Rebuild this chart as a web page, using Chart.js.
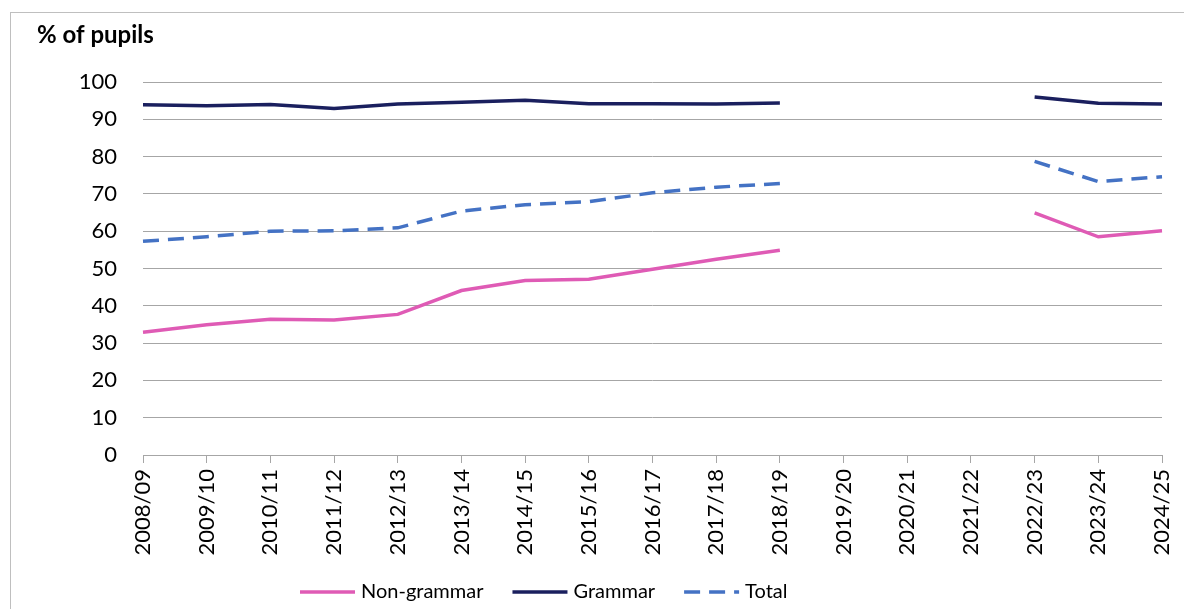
<!DOCTYPE html>
<html>
<head>
<meta charset="utf-8">
<script src="https://cdn.jsdelivr.net/npm/chart.js@4.4.1/dist/chart.umd.min.js"></script>
<style>
  body { margin: 0; background: #fff; }
  #frame { position: absolute; left: 10px; top: 12px; width: 1200px; height: 640px; border: 1px solid #bfbfbf; }
  #wrap { position: absolute; left: 0; top: 0; width: 1184px; height: 609px; }
</style>
</head>
<body>
<div id="frame"></div>
<div id="wrap"><canvas id="myChart" width="1184" height="609"></canvas></div>
<script>
const years = ['2008/09', '2009/10', '2010/11', '2011/12', '2012/13', '2013/14', '2014/15', '2015/16',
    '2016/17', '2017/18', '2018/19', '2019/20', '2020/21', '2021/22', '2022/23', '2023/24', '2024/25'];
// no data for the covid years
const nonGrammar = [32.9, 34.9, 36.4, 36.2, 37.7, 44.1, 46.8, 47.1, 49.8, 52.5, 54.9, null, null, null, 64.9, 58.5, 60.1];
const grammar = [93.9, 93.6, 94.0, 92.9, 94.1, 94.6, 95.1, 94.2, 94.2, 94.1, 94.4, null, null, null, 96.0, 94.3, 94.1];
const total = [57.3, 58.5, 60.0, 60.1, 60.9, 65.4, 67.1, 67.9, 70.3, 71.8, 72.8, null, null, null, 78.7, 73.3, 74.6];
const yTicks = [0, 10, 20, 30, 40, 50, 60, 70, 80, 90, 100];

const FONT = 'Lato, "Open Sans", sans-serif';
Chart.defaults.font.family = FONT;
Chart.defaults.font.size = 22;
Chart.defaults.color = '#000';

const titlePlugin = {
    id: 'yTitle',
    afterDraw(chart) {
        const ctx = chart.ctx;
        ctx.save();
        ctx.font = 'bold 24px ' + FONT;
        ctx.fillStyle = '#000';
        ctx.textBaseline = 'middle';
        ctx.fillText('% of pupils', 37, 35);
        ctx.restore();
    }
};

// excel style legend: line sample then label, left to right
const legendPlugin = {
    id: 'bottomLegend',
    afterDraw(chart) {
        const ctx = chart.ctx;
        let x = 300;
        const y = 592;
        ctx.save();
        ctx.font = '20px ' + FONT;
        ctx.textBaseline = 'middle';
        chart.data.datasets.forEach(ds => {
            ctx.strokeStyle = ds.borderColor;
            ctx.lineWidth = ds.borderWidth;
            ctx.setLineDash(ds.borderDash || []);
            ctx.beginPath();
            ctx.moveTo(x, y);
            ctx.lineTo(x + 55, y);
            ctx.stroke();
            ctx.setLineDash([]);
            x += 61;
            ctx.fillStyle = '#000';
            ctx.fillText(ds.label, x, y);
            x += ctx.measureText(ds.label).width + 29;
        });
        ctx.restore();
    }
};

const ctx = document.getElementById('myChart').getContext('2d');
const myChart = new Chart(ctx, {
    type: 'line',
    data: {
        labels: years,
        datasets: [{
            label: 'Non-grammar',
            data: nonGrammar,
            borderColor: '#df5bb5',
            borderWidth: 3.5
        }, {
            label: 'Grammar',
            data: grammar,
            borderColor: '#1a1f5e',
            borderWidth: 3.5
        }, {
            label: 'Total',
            data: total,
            borderColor: '#4472c4',
            borderWidth: 3.5,
            borderDash: [16, 9]
        }]
    },
    options: {
        responsive: false,
        animation: false,
        spanGaps: false,
        elements: { point: { radius: 0 }, line: { tension: 0 } },
        layout: { padding: { left: 0, right: 22, top: 82, bottom: 42 } },
        plugins: {
            tooltip: { enabled: false },
            legend: { display: false }
        },
        scales: {
            x: {
                offset: false,
                grid: { drawOnChartArea: false, drawTicks: true, tickLength: 8, color: '#a6a6a6' },
                border: { color: '#a6a6a6' },
                ticks: { minRotation: 90, maxRotation: 90, autoSkip: false, padding: 6, font: { size: 22 } },
                afterFit(scale) {
                    scale.height = 112;
                    scale.paddingLeft = 0;
                    scale.paddingRight = 0;
                }
            },
            y: {
                min: 0,
                max: 100,
                afterBuildTicks(scale) { scale.ticks = yTicks.map(v => ({ value: v })); },
                grid: { drawTicks: false, color: '#a6a6a6' },
                border: { display: false },
                ticks: { padding: 26, font: { size: 22 } },
                afterFit(scale) { scale.width = 143; }
            }
        }
    },
    plugins: [titlePlugin, legendPlugin]
});
</script>
</body>
</html>
